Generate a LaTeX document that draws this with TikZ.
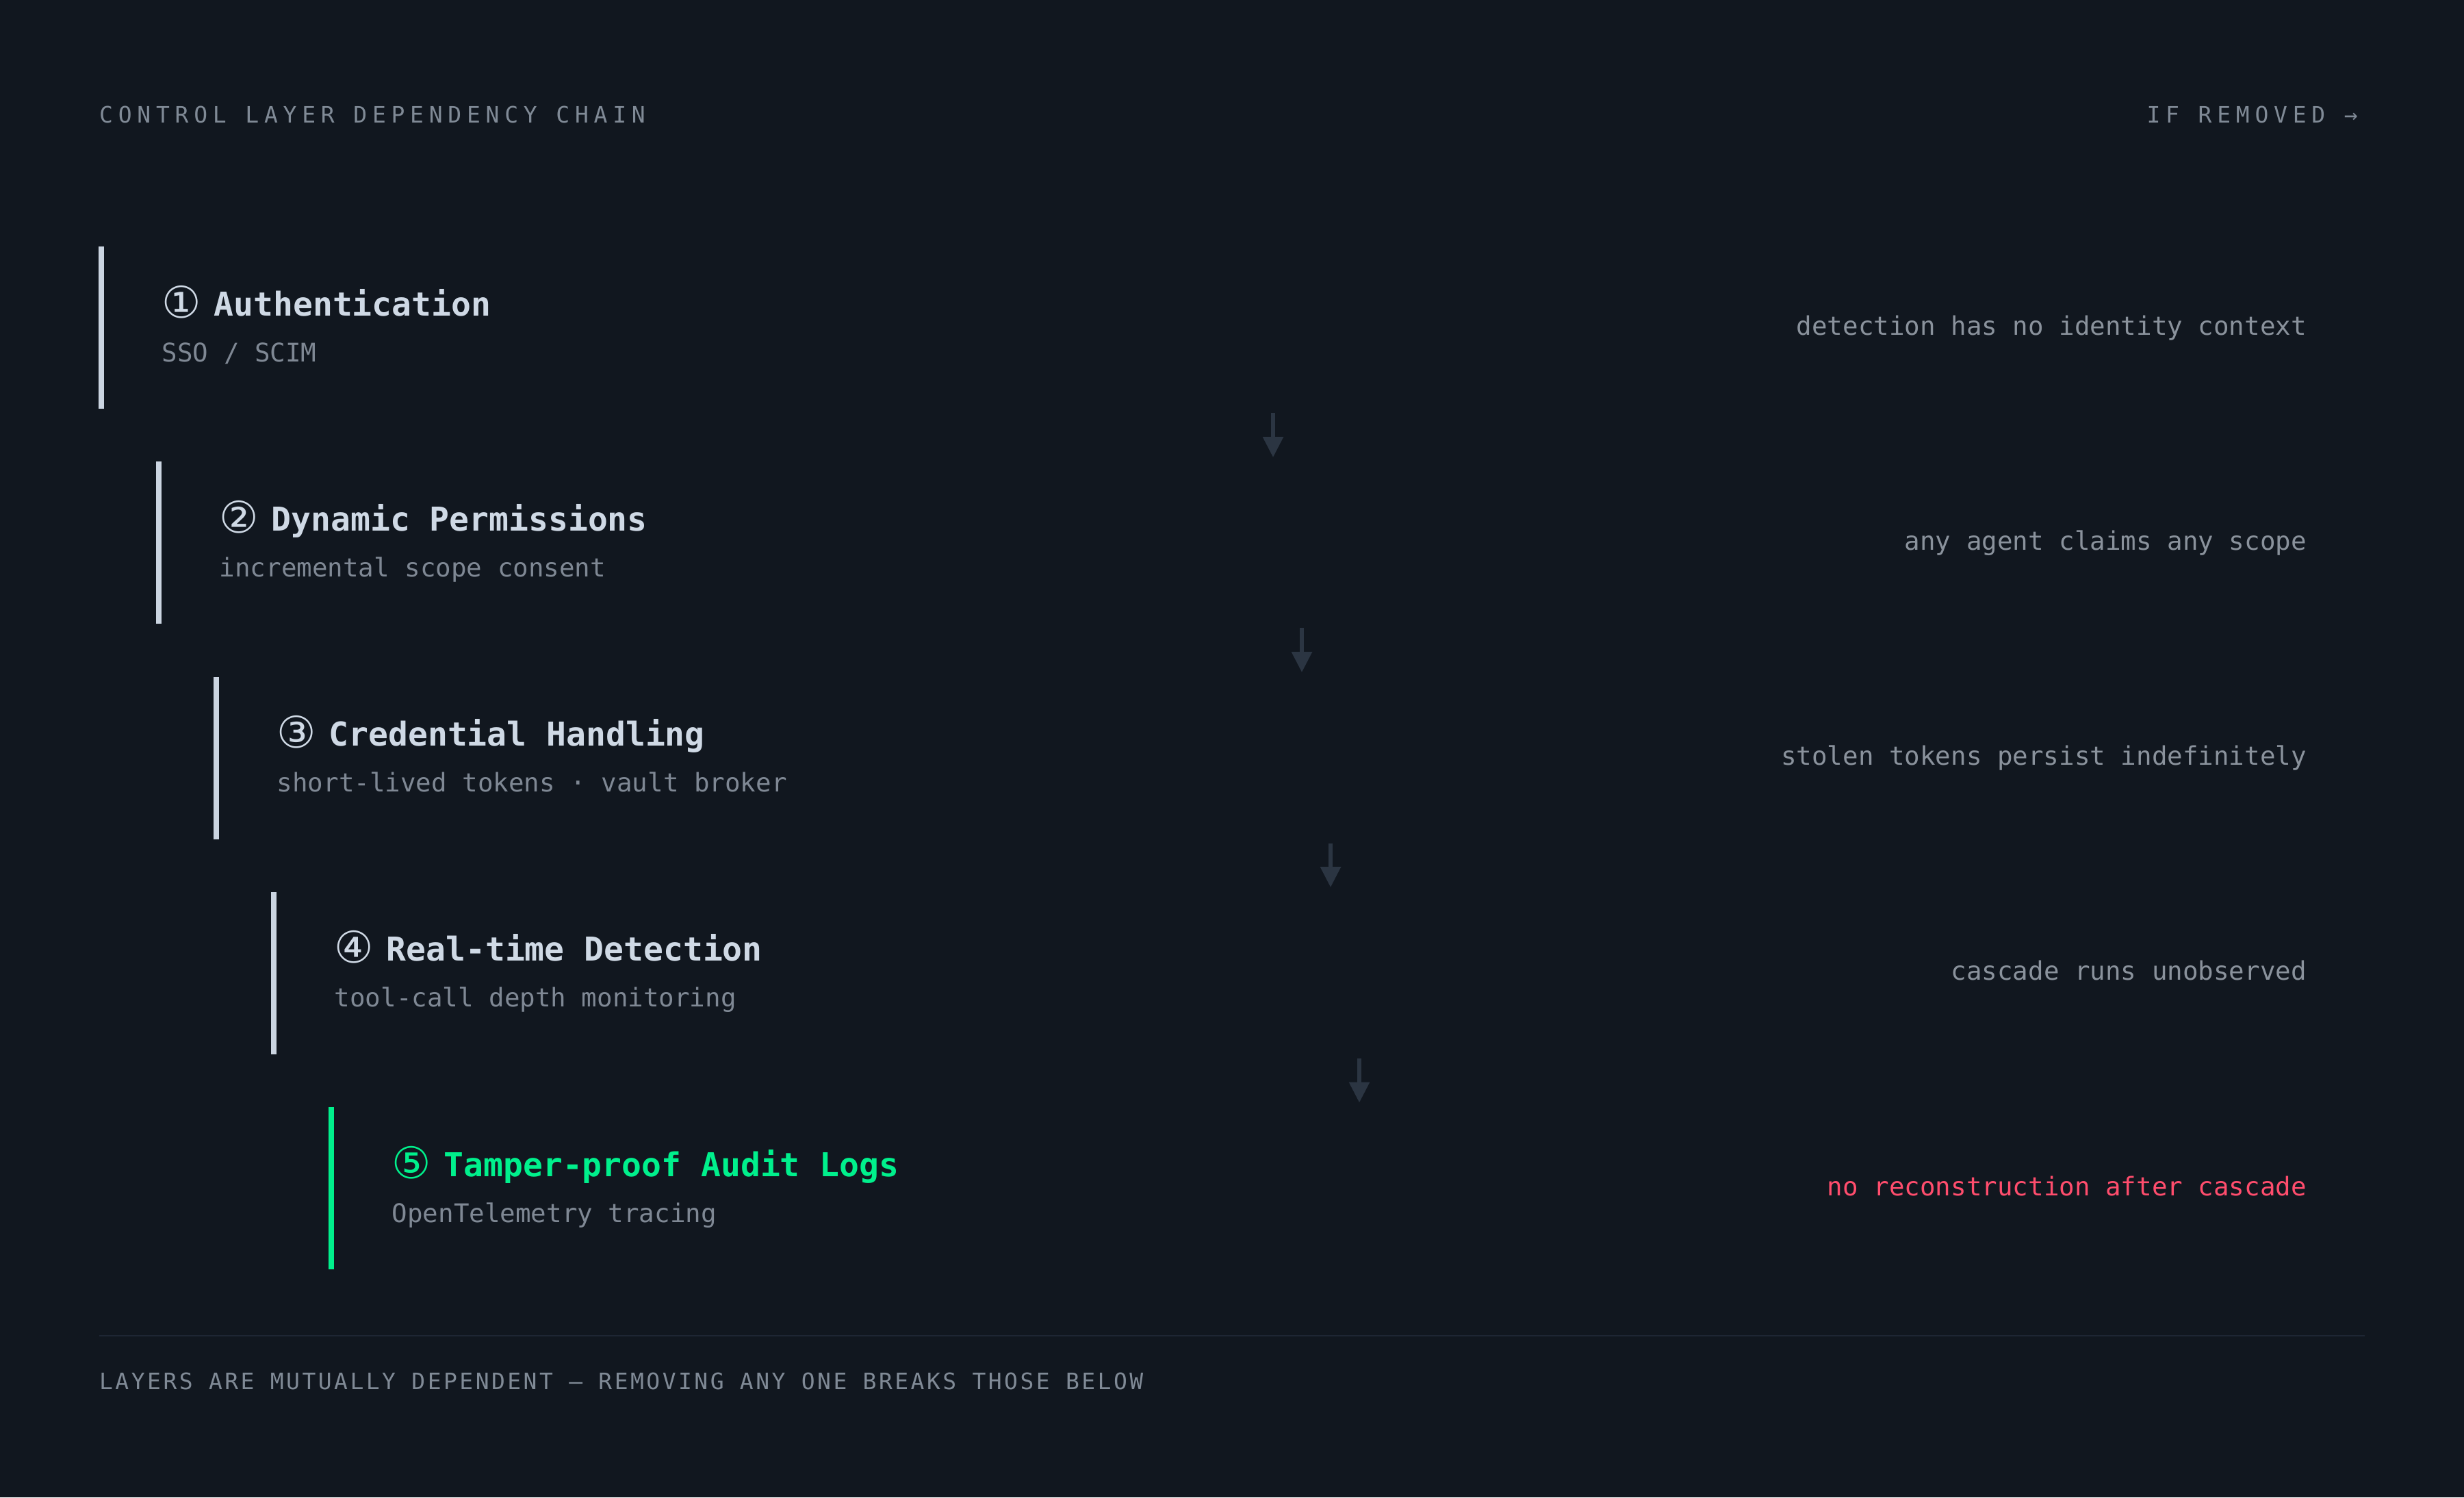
\documentclass[tikz,border=0pt]{standalone}
\usepackage{fontspec}
\setmainfont{DejaVu Sans Mono}
\newfontfamily\circfont{DejaVu Sans}
\newfontfamily\capsfont[LetterSpace=23.5]{DejaVu Sans Mono}
\newfontfamily\footfont[LetterSpace=10.5]{DejaVu Sans Mono}
\usetikzlibrary{calc,positioning}
\usetikzlibrary{arrows.meta}
\definecolor{bgdark}{HTML}{11171F}
\definecolor{barlight}{HTML}{CBD5E1}
\definecolor{titlelight}{HTML}{CFD9E5}
\definecolor{subgray}{HTML}{7F8894}
\definecolor{notegray}{HTML}{8A929C}
\definecolor{capsgray}{HTML}{808A96}
\definecolor{arrowgray}{HTML}{2B3542}
\definecolor{rulegray}{HTML}{1E2633}
\definecolor{lossred}{HTML}{FF4D6D}
\definecolor{auditgreen}{HTML}{00F08C}
\def\totalwidth{3600}
\def\totalheight{2187}
\def\barheight{237}
\def\textshift{88.5}
\tikzstyle{layerbar}             = [fill=barlight,draw=none,anchor=north,
                                    minimum width=8pt,minimum height=\barheight pt,
                                    inner sep=0pt,outer sep=0pt]
\tikzstyle{layertitle}           = [anchor=base west,inner sep=0pt,text=titlelight,
                                    font=\fontsize{48}{58}\selectfont\bfseries]
\tikzstyle{layersub}             = [anchor=base west,inner sep=0pt,text=subgray,
                                    font=\fontsize{37.5}{45}\selectfont]
\tikzstyle{lossnote}             = [anchor=base east,inner sep=0pt,text=notegray,
                                    font=\fontsize{37.5}{45}\selectfont]
\tikzstyle{capslabel}            = [inner sep=0pt,text=capsgray,
                                    font=\capsfont\fontsize{33}{40}\selectfont]
\tikzset{depends/.style={-{Triangle[length=30pt,width=29pt]},
                         line width=6pt, draw=arrowgray}
}
\newcommand\stepnum[1]{\makebox[76pt][l]{\raisebox{-3pt}{\circfont\mdseries\fontsize{64}{70}\selectfont #1}}}

\begin{document}
\begin{tikzpicture}[x=1pt,y=-1pt]
        \fill[bgdark] (0,0) rectangle (\totalwidth,\totalheight);
        \useasboundingbox (0,0) rectangle (\totalwidth,\totalheight);

        % Header
        \node[capslabel,anchor=base west] (head) at (145,179) {CONTROL LAYER DEPENDENCY CHAIN};
        \node[capslabel,anchor=base east] (removed) at (3445,179) {IF REMOVED →};

        % Layer 1
        \node[layerbar] (B1) at (148,360) {};
        \node[layertitle] (T1) at ($(B1.north)+(\textshift,101)$) {\stepnum{①}Authentication};
        \node[layersub] (S1) at ($(B1.north)+(\textshift,168)$) {SSO / SCIM};
        \node[lossnote] (N1) at (3370,489) {detection has no identity context};

        % Layer 2
        \node[layerbar] (B2) at (232,674.25) {};
        \node[layertitle] (T2) at ($(B2.north)+(\textshift,101)$) {\stepnum{②}Dynamic Permissions};
        \node[layersub] (S2) at ($(B2.north)+(\textshift,168)$) {incremental scope consent};
        \node[lossnote] (N2) at (3370,803.25) {any agent claims any scope};

        % Layer 3
        \node[layerbar] (B3) at (316,988.5) {};
        \node[layertitle] (T3) at ($(B3.north)+(\textshift,101)$) {\stepnum{③}Credential Handling};
        \node[layersub] (S3) at ($(B3.north)+(\textshift,168)$) {short-lived tokens · vault broker};
        \node[lossnote] (N3) at (3370,1117.5) {stolen tokens persist indefinitely};

        % Layer 4
        \node[layerbar] (B4) at (400,1302.75) {};
        \node[layertitle] (T4) at ($(B4.north)+(\textshift,101)$) {\stepnum{④}Real-time Detection};
        \node[layersub] (S4) at ($(B4.north)+(\textshift,168)$) {tool-call depth monitoring};
        \node[lossnote] (N4) at (3370,1431.75) {cascade runs unobserved};

        % Layer 5
        \node[layerbar,fill=auditgreen] (B5) at (484,1617) {};
        \node[layertitle,text=auditgreen] (T5) at ($(B5.north)+(\textshift,101)$) {\stepnum{⑤}Tamper-proof Audit Logs};
        \node[layersub] (S5) at ($(B5.north)+(\textshift,168)$) {OpenTelemetry tracing};
        \node[lossnote,text=lossred] (N5) at (3370,1746) {no reconstruction after cascade};

        % Arrows between layers
        \coordinate (A1top) at (1860,603);     \coordinate (A1tip) at (1860,668);
        \coordinate (A2top) at (1902,917.25);  \coordinate (A2tip) at (1902,982);
        \coordinate (A3top) at (1944,1231.5);  \coordinate (A3tip) at (1944,1296);
        \coordinate (A4top) at (1986,1545.75); \coordinate (A4tip) at (1986,1610.5);
        \draw[depends] (A1top) -- (A1tip);
        \draw[depends] (A2top) -- (A2tip);
        \draw[depends] (A3top) -- (A3tip);
        \draw[depends] (A4top) -- (A4tip);

        % Footer
        \coordinate (ruleL) at (145,1951);
        \coordinate (ruleR) at (3455,1951);
        \draw[rulegray,line width=2pt] (ruleL) -- (ruleR);
        \node[capslabel,anchor=base west,font=\footfont\fontsize{33}{40}\selectfont] (foot) at (145,2029)
              {LAYERS ARE MUTUALLY DEPENDENT — REMOVING ANY ONE BREAKS THOSE BELOW};
\end{tikzpicture}
\end{document}
